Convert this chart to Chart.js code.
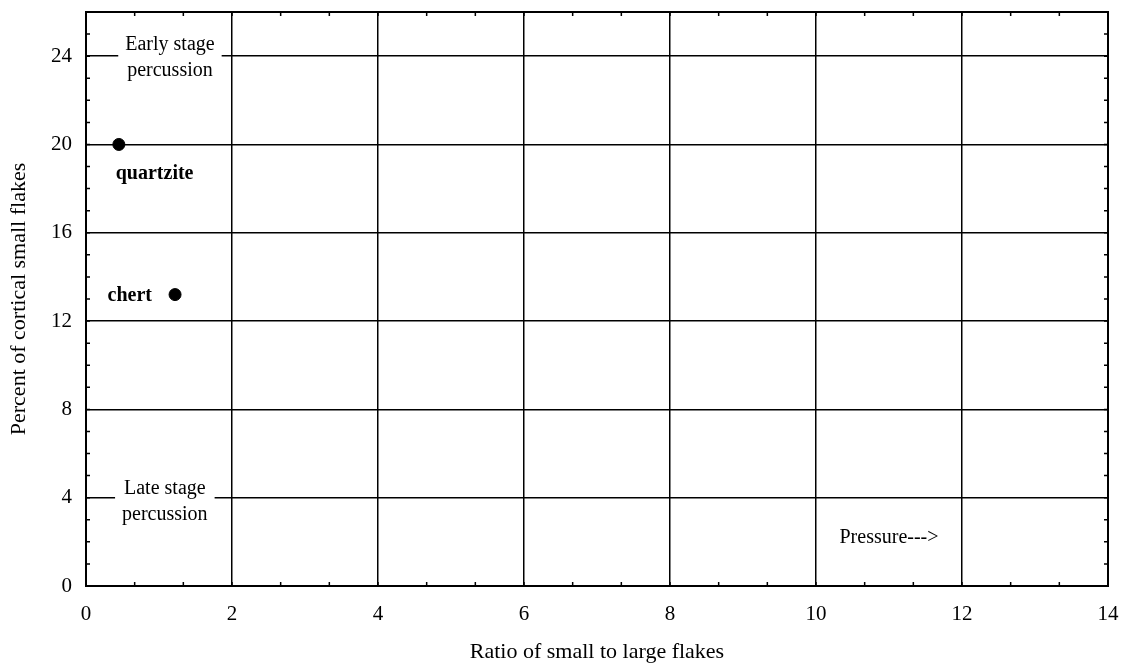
<!DOCTYPE html>
<html>
<head>
<meta charset="utf-8">
<script src="https://cdn.jsdelivr.net/npm/chart.js@4"></script>
<style>
  html, body { margin: 0; padding: 0; background: #fff; }
  #wrap { width: 1123px; height: 669px; }
</style>
</head>
<body>
<div id="wrap"><canvas id="chart" width="1123" height="669"></canvas></div>
<script>
// points
const materials = ["quartzite", "chert"];
const ratioValues = [0.45, 1.22];
const cortexValues = [20, 13.2];

const xTicks = [0, 2, 4, 6, 8, 10, 12, 14];
const yTicks = [0, 4, 8, 12, 16, 20, 24];

// text notes, positioned in data units
const noteText = [["Early stage", "percussion"], ["Late stage", "percussion"], ["quartzite"], ["chert"], ["Pressure--->"]];
const noteX = [1.15, 1.08, 0.94, 0.6, 11.0];
const noteY = [23.95, 3.8, 18.65, 13.15, 2.2];
const noteBold = [false, false, true, true, false];
const noteBox = [true, true, false, false, false];

const serif = "'Liberation Serif', 'Times New Roman', serif";

const notesPlugin = {
  id: "notes",
  afterDatasetsDraw(chart) {
    const ctx = chart.ctx;
    const xs = chart.scales.x, ys = chart.scales.y;
    ctx.save();
    ctx.textAlign = "center";
    ctx.textBaseline = "middle";
    noteText.forEach((lines, i) => {
      const cx = xs.getPixelForValue(noteX[i]);
      const cy = ys.getPixelForValue(noteY[i]);
      ctx.font = (noteBold[i] ? "bold " : "") + "20px " + serif;
      const lh = 26;
      if (noteBox[i]) {
        const w = Math.max(...lines.map(l => ctx.measureText(l).width)) + 14;
        ctx.fillStyle = "#fff";
        ctx.fillRect(cx - w / 2, cy - lh * lines.length / 2, w, lh * lines.length);
      }
      ctx.fillStyle = "#000";
      lines.forEach((l, k) => {
        ctx.fillText(l, cx, cy + (k - (lines.length - 1) / 2) * lh);
      });
    });
    ctx.restore();
  }
};

// small inward ticks on all four sides
const minorTicksPlugin = {
  id: "minorTicks",
  afterDraw(chart) {
    const ctx = chart.ctx;
    const a = chart.chartArea;
    const xs = chart.scales.x, ys = chart.scales.y;
    ctx.save();
    ctx.strokeStyle = "#000";
    ctx.lineWidth = 1.5;
    ctx.beginPath();
    for (let v = 0; v <= 14.001; v += 2 / 3) {
      const px = xs.getPixelForValue(v);
      ctx.moveTo(px, a.bottom); ctx.lineTo(px, a.bottom - 4);
      ctx.moveTo(px, a.top); ctx.lineTo(px, a.top + 4);
    }
    for (let v = 0; v <= 26; v += 1) {
      const py = ys.getPixelForValue(v);
      ctx.moveTo(a.left, py); ctx.lineTo(a.left + 4, py);
      ctx.moveTo(a.right, py); ctx.lineTo(a.right - 4, py);
    }
    ctx.stroke();
    ctx.lineWidth = 2;
    ctx.strokeRect(a.left, a.top, a.right - a.left, a.bottom - a.top);
    ctx.restore();
  }
};

new Chart(document.getElementById("chart").getContext("2d"), {
  type: "scatter",
  data: {
    datasets: [{
      label: "flakes",
      data: ratioValues.map((x, i) => ({ x: x, y: cortexValues[i], name: materials[i] })),
      backgroundColor: "#000",
      borderColor: "#000",
      pointRadius: 6,
      pointHoverRadius: 6
    }]
  },
  options: {
    responsive: false,
    animation: false,
    layout: { padding: { top: 12, right: 15, left: 0, bottom: 0 } },
    plugins: {
      legend: { display: false },
      tooltip: { enabled: false }
    },
    scales: {
      x: {
        type: "linear",
        min: 0,
        max: 14,
        afterBuildTicks: s => { s.ticks = xTicks.map(v => ({ value: v })); },
        afterFit: s => { s.height = 83; s.paddingLeft = 0; s.paddingRight = 0; },
        grid: { color: "#000", lineWidth: 1.5, drawTicks: false },
        border: { display: false },
        ticks: { color: "#000", padding: 16, font: { family: serif, size: 21 } },
        title: { display: true, text: "Ratio of small to large flakes", color: "#000", padding: { top: 12 }, font: { family: serif, size: 22 } }
      },
      y: {
        type: "linear",
        min: 0,
        max: 26,
        afterBuildTicks: s => { s.ticks = yTicks.map(v => ({ value: v })); },
        afterFit: s => { s.width = 86; s.paddingTop = 0; s.paddingBottom = 0; },
        grid: { color: "#000", lineWidth: 1.5, drawTicks: false },
        border: { display: false },
        ticks: { color: "#000", padding: 14, font: { family: serif, size: 21 } },
        title: { display: true, text: "Percent of cortical small flakes", color: "#000", padding: { top: 6, bottom: 8 }, font: { family: serif, size: 22 } }
      }
    }
  },
  plugins: [notesPlugin, minorTicksPlugin]
});
</script>
</body>
</html>
